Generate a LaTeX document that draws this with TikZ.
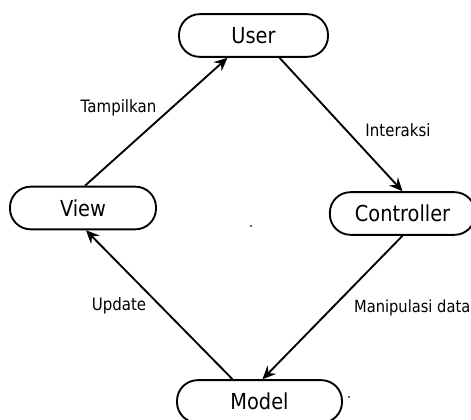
\documentclass[tikz,border=0pt]{standalone}
\usepackage{fontspec}
\setmainfont[FakeStretch=0.88]{DejaVu Sans}
\usetikzlibrary{arrows.meta}

\tikzset{
  stage/.style={draw, line width=1.4pt, rounded corners=15.5pt,
    minimum height=32pt, inner sep=0pt, font=\fontsize{16.5}{18}\selectfont},
  flow/.style={line width=1.4pt, -{Stealth[length=10pt,width=9pt,inset=3.5pt]}},
  caption/.style={font=\fontsize{12.8}{14}\selectfont, inner sep=0pt},
  speck/.style={fill=black!60, draw=none}
}

\begin{document}
\begin{tikzpicture}[x=0.75pt, y=-0.75pt]
  \useasboundingbox (0,0) rectangle (471,420);

  % the four stages of the cycle
  \node[stage, minimum width=111.75pt] (user)       at (253.5,35.5)  {User};
  \node[stage, minimum width=109.5pt]  (view)       at (83,208)      {View};
  \node[stage, minimum width=109pt]    (controller) at (402.5,213.5) {Controller};
  \node[stage, minimum width=123.75pt] (model)      at (259.5,401.5) {Model};

  % connectors
  \draw[flow] ([shift={(2,0)}]view.north)   -- ([shift={(-26,0)}]user.south);
  \draw[flow] ([shift={(26,0)}]user.south)  -- (controller.north);
  \draw[flow] (controller.south)            -- ([shift={(3,0)}]model.north);
  \draw[flow] ([shift={(-27,0)}]model.north) -- ([shift={(3,0)}]view.south);

  % connector labels
  \node[caption] (lTampil) at (118.5,107.5) {Tampilkan};
  \node[caption] (lInter)  at (398,130)     {Interaksi};
  \node[caption] (lUpd)    at (119,305.5)   {Update};
  \node[caption, anchor=east, font=\fontsize{12.5}{14}\selectfont]
    (lManip) at (470.5,307.5) {Manipulasi data};

  % stray marks
  \fill[speck] (250.2,225.2) rectangle (251.8,226.8);
  \fill[speck] (348.4,396.4) rectangle (350,398);
\end{tikzpicture}
\end{document}
